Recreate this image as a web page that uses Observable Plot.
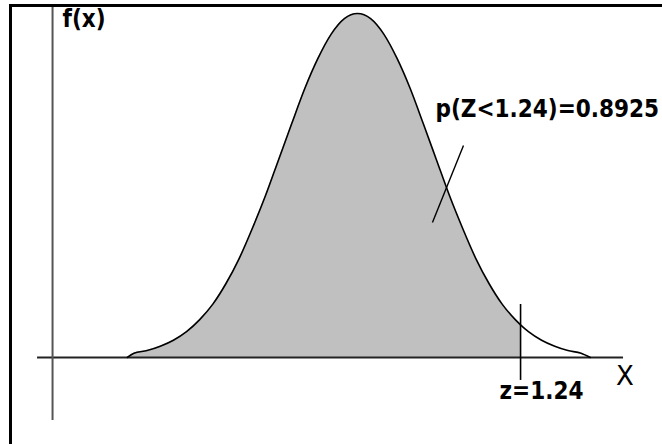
<!DOCTYPE html>
<html>
<head>
<meta charset="utf-8">
<script src="https://cdn.jsdelivr.net/npm/d3@7"></script>
<script src="https://cdn.jsdelivr.net/npm/@observablehq/plot@0.6"></script>
<style>
  html, body { margin: 0; padding: 0; background: #ffffff; }
  #wrap { position: relative; width: 662px; height: 444px; overflow: hidden; }
  #frame { position: absolute; left: 9px; top: 4px; right: -10px; bottom: -10px;
           border-top: 3px solid #000; border-left: 3px solid #000; pointer-events: none; }
</style>
</head>
<body>
<div id="wrap"><div id="frame"></div></div>
<script>
// Curve samples (z units, density)
const zValues = [-1.75, -1.7, -1.6, -1.5, -1.4, -1.3, -1.2, -1.1, -1.0, -0.9, -0.8, -0.7, -0.6, -0.5, -0.4, -0.3, -0.2, -0.1, 0,
                 0.1, 0.2, 0.3, 0.4, 0.5, 0.6, 0.7, 0.8, 0.9, 1.0, 1.1, 1.2, 1.24, 1.3, 1.4, 1.5, 1.6, 1.7, 1.77];
const density = [0.000, 0.005, 0.008, 0.013, 0.020, 0.030, 0.044, 0.062, 0.086, 0.115, 0.150, 0.188, 0.230, 0.272, 0.313, 0.348, 0.376, 0.394, 0.400,
                 0.394, 0.376, 0.348, 0.313, 0.272, 0.230, 0.188, 0.150, 0.115, 0.086, 0.062, 0.044, 0.038, 0.030, 0.020, 0.013, 0.008, 0.005, 0.000];
const zCut = 1.24;
const probLabel = "p(Z<1.24)=0.8925";
const zLabel = "z=1.24";
const xAxisLabel = "X";
const yAxisLabel = "f(x)";

// Axis extents and annotation anchors (data units)
const xAxisSpan = [-2.433, 2.023];
const yAxisAt = [-2.319];
const yAxisSpan = [-0.0733, 0.4093];
const zTickSpan = [-0.0267, 0.0616];
const pointer = [{x1: 0.806, y1: 0.2465, x2: 0.570, y2: 0.157}];
const labels = [
  {x: -2.243, y: 0.393, text: yAxisLabel, anchor: "start", size: 24, weight: "bold", family: "DejaVu Sans Condensed"},
  {x: 0.593, y: 0.2884, text: probLabel, anchor: "start", size: 24, weight: "bold", family: "DejaVu Sans Condensed"},
  {x: 1.399, y: -0.039, text: zLabel, anchor: "middle", size: 24, weight: "bold", family: "DejaVu Sans Condensed"},
  {x: 2.034, y: -0.0227, text: xAxisLabel, anchor: "middle", size: 26, weight: "normal", family: "DejaVu Sans"}
];

const curve = zValues.map((z, i) => ({z, d: density[i]}));
const shaded = curve.filter(p => p.z <= zCut);

const chart = Plot.plot({
  width: 662,
  height: 444,
  margin: 0,
  style: {background: "transparent", fontFamily: "DejaVu Sans"},
  x: {domain: [-2.7148, 2.3194], axis: null},
  y: {domain: [-0.1012, 0.4151], axis: null},
  marks: [
    Plot.areaY(shaded, {x: "z", y: "d", fill: "#c0c0c0", curve: "monotone-x"}),
    Plot.ruleY([0], {x1: xAxisSpan[0], x2: xAxisSpan[1], stroke: "#222", strokeWidth: 2}),
    Plot.ruleX(yAxisAt, {y1: yAxisSpan[0], y2: yAxisSpan[1], stroke: "#555", strokeWidth: 2}),
    Plot.lineY(curve, {x: "z", y: "d", stroke: "#000", strokeWidth: 1.6, curve: "monotone-x"}),
    Plot.ruleX([zCut], {y1: zTickSpan[0], y2: zTickSpan[1], stroke: "#000", strokeWidth: 1.6}),
    Plot.link(pointer, {x1: "x1", y1: "y1", x2: "x2", y2: "y2", stroke: "#000", strokeWidth: 1.4}),
    ...labels.map(l => Plot.text([l], {x: "x", y: "y", text: "text", textAnchor: l.anchor,
      fontSize: l.size, fontWeight: l.weight, fontFamily: l.family, fill: "#000"}))
  ]
});
document.getElementById("wrap").prepend(chart);
</script>
</body>
</html>
